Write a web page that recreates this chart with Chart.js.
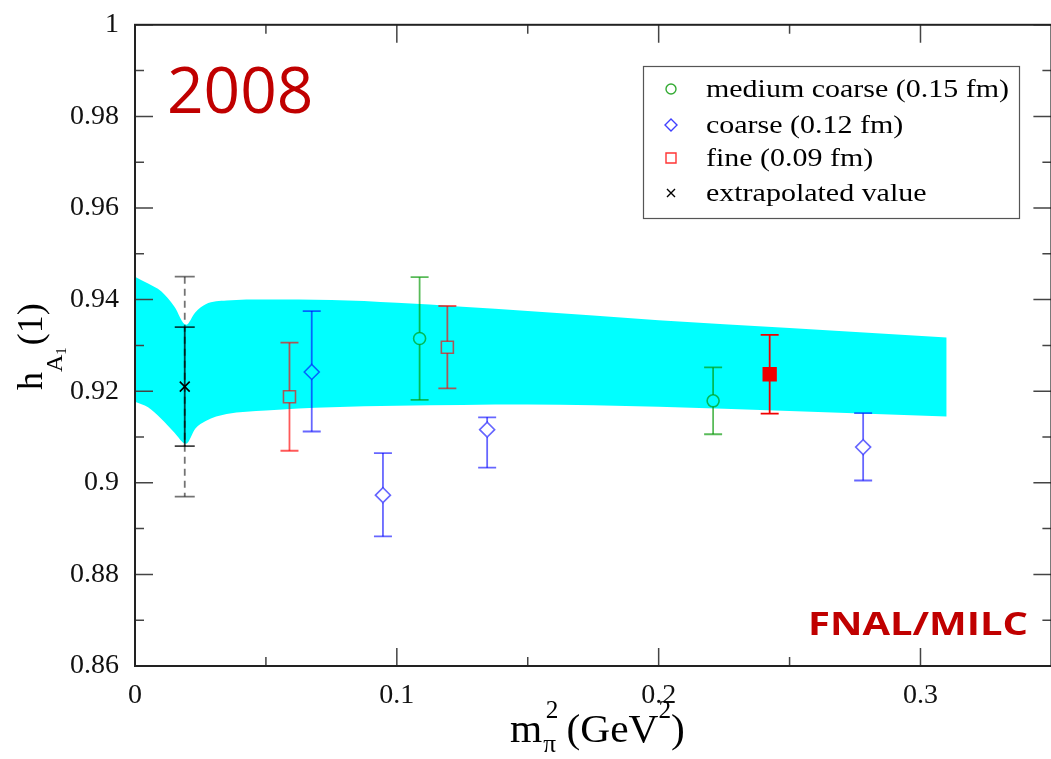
<!DOCTYPE html>
<html>
<head>
<meta charset="utf-8">
<script src="https://cdn.jsdelivr.net/npm/chart.js@4.4.1/dist/chart.umd.min.js"></script>
<style>
    html, body { margin: 0; padding: 0; overflow: hidden; background: #fff; }
    #wrap { width: 1062px; height: 759px; }
</style>
</head>
<body>
<div id="wrap"><canvas id="chart" width="1062" height="759"></canvas></div>
<script>
// Axis ticks
const xTicks = [0, 0.1, 0.2, 0.3];
const xMinor = [0.05, 0.15, 0.25];
const yTicks = [0.86, 0.88, 0.9, 0.92, 0.94, 0.96, 0.98, 1];
const yMinor = [0.87, 0.89, 0.91, 0.93, 0.95, 0.97, 0.99];

// Fit band
const bandX     = [0, 0.005, 0.01, 0.015, 0.0195, 0.023, 0.027, 0.035, 0.05, 0.075, 0.1, 0.15, 0.2, 0.25, 0.31];
const bandUpper = [0.945, 0.9435, 0.9418, 0.9385, 0.9345, 0.9372, 0.939, 0.9398, 0.940, 0.9399, 0.9393, 0.9375, 0.9355, 0.9338, 0.9317];
const bandLower = [0.9177, 0.9165, 0.914, 0.911, 0.9085, 0.9118, 0.9135, 0.915, 0.9158, 0.9165, 0.9168, 0.9171, 0.9166, 0.9157, 0.9145];

// medium coarse (0.15 fm)
const mcX   = [0.1087, 0.2208];
const mcY   = [0.9315, 0.9179];
const mcErr = [0.0134, 0.0073];

// coarse (0.12 fm)
const coX   = [0.0675, 0.0947, 0.1345, 0.2781];
const coY   = [0.9242, 0.8973, 0.9116, 0.9078];
const coErrUp = [0.0133, 0.0092, 0.0027, 0.0074];
const coErrDn = [0.0130, 0.0090, 0.0083, 0.0073];

// fine (0.09 fm)
const fiX   = [0.059, 0.1193, 0.2424];
const fiY   = [0.9188, 0.9296, 0.9237];
const fiErr = [0.0118, 0.0090, 0.0086];
const fiFilled = [false, false, true];

// extrapolated value
const exX = [0.019];
const exY = [0.921];
const exStat = [0.013];
const exTotal = [0.024];

const serif = "'Liberation Serif', 'Times New Roman', serif";
const GREEN = 'rgba(0,150,0,0.65)';
const BLUE = 'rgba(0,0,255,0.6)';
const RED = 'rgba(255,0,0,0.65)';

function pts(xs, ys) {
    return xs.map((x, i) => ({ x: x, y: ys[i] }));
}

// Error bars drawn through the scales
const errorBars = {
    id: 'errorBars',
    afterDatasetsDraw(chart) {
        const ctx = chart.ctx;
        const xs = chart.scales.x, ys = chart.scales.y;

        function bar(x, y, up, dn, color, gap, cap, dash) {
            const px = xs.getPixelForValue(x);
            const pc = ys.getPixelForValue(y);
            const ph = ys.getPixelForValue(y + up);
            const pl = ys.getPixelForValue(y - dn);
            ctx.save();
            ctx.strokeStyle = color;
            ctx.lineWidth = 1.8;
            if (dash) ctx.setLineDash(dash);
            ctx.beginPath();
            if (gap > 0) {
                ctx.moveTo(px, ph); ctx.lineTo(px, pc - gap);
                ctx.moveTo(px, pc + gap); ctx.lineTo(px, pl);
            } else {
                ctx.moveTo(px, ph); ctx.lineTo(px, pl);
            }
            ctx.stroke();
            ctx.setLineDash([]);
            ctx.beginPath();
            ctx.moveTo(px - cap, ph); ctx.lineTo(px + cap, ph);
            ctx.moveTo(px - cap, pl); ctx.lineTo(px + cap, pl);
            ctx.stroke();
            ctx.restore();
        }

        ctx.save();
        ctx.beginPath();
        ctx.rect(chart.chartArea.left, chart.chartArea.top, chart.chartArea.width, chart.chartArea.height);
        ctx.clip();

        exX.forEach((x, i) => {
            bar(x, exY[i], exTotal[i], exTotal[i], 'rgba(0,0,0,0.55)', 0, 10, [7, 5]);
            bar(x, exY[i], exStat[i], exStat[i], 'rgba(0,0,0,0.75)', 0, 10);
        });
        mcX.forEach((x, i) => bar(x, mcY[i], mcErr[i], mcErr[i], GREEN, 6, 9));
        coX.forEach((x, i) => bar(x, coY[i], coErrUp[i], coErrDn[i], BLUE, 7.5, 9));
        fiX.forEach((x, i) => bar(x, fiY[i], fiErr[i], fiErr[i], fiFilled[i] ? '#f00000' : RED, 6, 9));
        ctx.restore();
    }
};

// Frame with inward ticks, axis titles, legend, labels
const decorations = {
    id: 'decorations',
    afterDraw(chart) {
        const ctx = chart.ctx;
        const a = chart.chartArea;
        const xs = chart.scales.x, ys = chart.scales.y;
        ctx.save();

        // ticks
        ctx.strokeStyle = '#444';
        ctx.lineWidth = 1.5;
        ctx.beginPath();
        const tick = (v, len, isX) => {
            if (isX) {
                const p = xs.getPixelForValue(v);
                ctx.moveTo(p, a.bottom); ctx.lineTo(p, a.bottom - len);
                ctx.moveTo(p, a.top); ctx.lineTo(p, a.top + len);
            } else {
                const p = ys.getPixelForValue(v);
                ctx.moveTo(a.left, p); ctx.lineTo(a.left + len, p);
                ctx.moveTo(a.right, p); ctx.lineTo(a.right - len, p);
            }
        };
        xTicks.forEach(v => tick(v, 18, true));
        xMinor.forEach(v => tick(v, 9, true));
        yTicks.forEach(v => tick(v, 18, false));
        yMinor.forEach(v => tick(v, 9, false));
        ctx.stroke();

        // frame
        ctx.strokeStyle = '#222';
        ctx.lineWidth = 2;
        ctx.strokeRect(a.left, a.top, a.right - a.left, a.bottom - a.top);

        // y axis title: h_{A_1}(1)
        ctx.fillStyle = '#000';
        ctx.save();
        ctx.translate(42, 390);
        ctx.rotate(-Math.PI / 2);
        ctx.textBaseline = 'alphabetic';
        let u = 0;
        ctx.font = '36px ' + serif;
        ctx.fillText('h', u, 0); u += ctx.measureText('h').width;
        ctx.font = '24px ' + serif;
        ctx.fillText('A', u, 20); u += ctx.measureText('A').width;
        ctx.font = '15px ' + serif;
        ctx.fillText('1', u, 24); u += ctx.measureText('1').width + 2;
        ctx.font = '36px ' + serif;
        ctx.fillText('(1)', u, 0);
        ctx.restore();

        // x axis title: m_pi^2 (GeV^2)
        ctx.save();
        ctx.translate(510, 742);
        ctx.scale(1.15, 1.12);
        let x = 0;
        ctx.font = '36px ' + serif;
        ctx.fillText('m', x, 0); x += ctx.measureText('m').width + 1;
        ctx.font = '22px ' + serif;
        ctx.fillText('\u03c0', x, 9);
        ctx.fillText('2', x + 2, -21);
        x += ctx.measureText('\u03c0').width + 9;
        ctx.font = '36px ' + serif;
        ctx.fillText('(GeV', x, 0); x += ctx.measureText('(GeV').width;
        ctx.font = '22px ' + serif;
        ctx.fillText('2', x, -21); x += ctx.measureText('2').width;
        ctx.font = '36px ' + serif;
        ctx.fillText(')', x, 0);
        ctx.restore();

        // legend
        ctx.strokeStyle = '#555';
        ctx.lineWidth = 1.2;
        ctx.strokeRect(643.5, 66.5, 376, 152);
        const rows = [
            { y: 89,  label: 'medium coarse (0.15 fm)', kind: 'circle' },
            { y: 125, label: 'coarse (0.12 fm)', kind: 'diamond' },
            { y: 158, label: 'fine (0.09 fm)', kind: 'square' },
            { y: 193, label: 'extrapolated value', kind: 'cross' }
        ];
        ctx.font = '25px ' + serif;
        const sx = 303 / ctx.measureText(rows[0].label).width;
        rows.forEach(r => {
            const mx = 671, my = r.y;
            ctx.lineWidth = 1.4;
            ctx.beginPath();
            if (r.kind === 'circle') {
                ctx.strokeStyle = 'rgba(0,150,0,0.8)';
                ctx.arc(mx, my, 5, 0, Math.PI * 2);
            } else if (r.kind === 'diamond') {
                ctx.strokeStyle = 'rgba(0,0,255,0.75)';
                ctx.moveTo(mx, my - 6); ctx.lineTo(mx + 6, my); ctx.lineTo(mx, my + 6); ctx.lineTo(mx - 6, my); ctx.closePath();
            } else if (r.kind === 'square') {
                ctx.strokeStyle = 'rgba(255,0,0,0.8)';
                ctx.rect(mx - 5, my - 5, 10, 10);
            } else {
                ctx.strokeStyle = '#000';
                ctx.moveTo(mx - 4, my - 4); ctx.lineTo(mx + 4, my + 4);
                ctx.moveTo(mx + 4, my - 4); ctx.lineTo(mx - 4, my + 4);
            }
            ctx.stroke();
            ctx.save();
            ctx.translate(706, my + 8);
            ctx.scale(sx, 1);
            ctx.fillStyle = '#000';
            ctx.fillText(r.label, 0, 0);
            ctx.restore();
        });

        // overlay labels
        ctx.fillStyle = '#c00000';
        ctx.font = "64px 'Open Sans', sans-serif";
        ctx.fillText('2008', 167, 113);
        ctx.save();
        ctx.font = "bold 32px 'Open Sans', sans-serif";
        const w = ctx.measureText('FNAL/MILC').width;
        ctx.translate(808, 635);
        ctx.scale(220 / w, 1);
        ctx.fillText('FNAL/MILC', 0, 0);
        ctx.restore();

        ctx.restore();
    }
};

new Chart(document.getElementById('chart'), {
    type: 'scatter',
    data: {
        datasets: [
            {
                type: 'line',
                order: 10,
                data: pts(bandX, bandUpper),
                borderWidth: 0,
                pointRadius: 0,
                backgroundColor: '#00ffff',
                fill: '+1',
                cubicInterpolationMode: 'monotone'
            },
            {
                type: 'line',
                order: 11,
                data: pts(bandX, bandLower),
                borderWidth: 0,
                pointRadius: 0,
                backgroundColor: '#00ffff',
                fill: false,
                cubicInterpolationMode: 'monotone'
            },
            {
                label: 'medium coarse (0.15 fm)',
                order: 1,
                data: pts(mcX, mcY),
                pointStyle: 'circle',
                pointRadius: 6,
                borderWidth: 1.6,
                borderColor: GREEN,
                backgroundColor: 'rgba(0,0,0,0)'
            },
            {
                label: 'coarse (0.12 fm)',
                order: 1,
                data: pts(coX, coY),
                pointStyle: 'rectRot',
                pointRadius: 7.5,
                borderWidth: 1.6,
                borderColor: BLUE,
                backgroundColor: 'rgba(0,0,0,0)'
            },
            {
                label: 'fine (0.09 fm)',
                order: 1,
                data: pts(fiX, fiY),
                pointStyle: 'rect',
                pointRadius: ctx => fiFilled[ctx.dataIndex] ? 9 : 8.5,
                borderWidth: 1.6,
                borderColor: ctx => fiFilled[ctx.dataIndex] ? '#f00000' : RED,
                backgroundColor: ctx => fiFilled[ctx.dataIndex] ? '#f00000' : 'rgba(0,0,0,0)'
            },
            {
                label: 'extrapolated value',
                order: 0,
                data: pts(exX, exY),
                pointStyle: 'crossRot',
                pointRadius: 7,
                borderWidth: 1.6,
                borderColor: '#000'
            }
        ]
    },
    options: {
        responsive: false,
        animation: false,
        devicePixelRatio: 1,
        layout: { padding: { top: 21, right: 3, left: 0, bottom: 0 } },
        plugins: {
            legend: { display: false },
            tooltip: { enabled: false },
            filler: { propagate: false }
        },
        scales: {
            x: {
                type: 'linear',
                min: 0,
                max: 0.35,
                grid: { display: false },
                border: { display: false },
                afterBuildTicks: s => { s.ticks = xTicks.map(v => ({ value: v })); },
                afterFit: s => { s.height = 93; },
                ticks: {
                    font: { family: serif, size: 28 },
                    color: '#111',
                    padding: 5,
                    maxRotation: 0,
                    callback: v => String(+v.toFixed(2))
                }
            },
            y: {
                min: 0.86,
                max: 1,
                grid: { display: false },
                border: { display: false },
                afterBuildTicks: s => { s.ticks = yTicks.map(v => ({ value: v })); },
                afterFit: s => { s.width = 135; },
                ticks: {
                    font: { family: serif, size: 28 },
                    color: '#111',
                    padding: 8,
                    callback: v => String(+v.toFixed(2))
                }
            }
        }
    },
    plugins: [errorBars, decorations]
});
</script>
</body>
</html>
